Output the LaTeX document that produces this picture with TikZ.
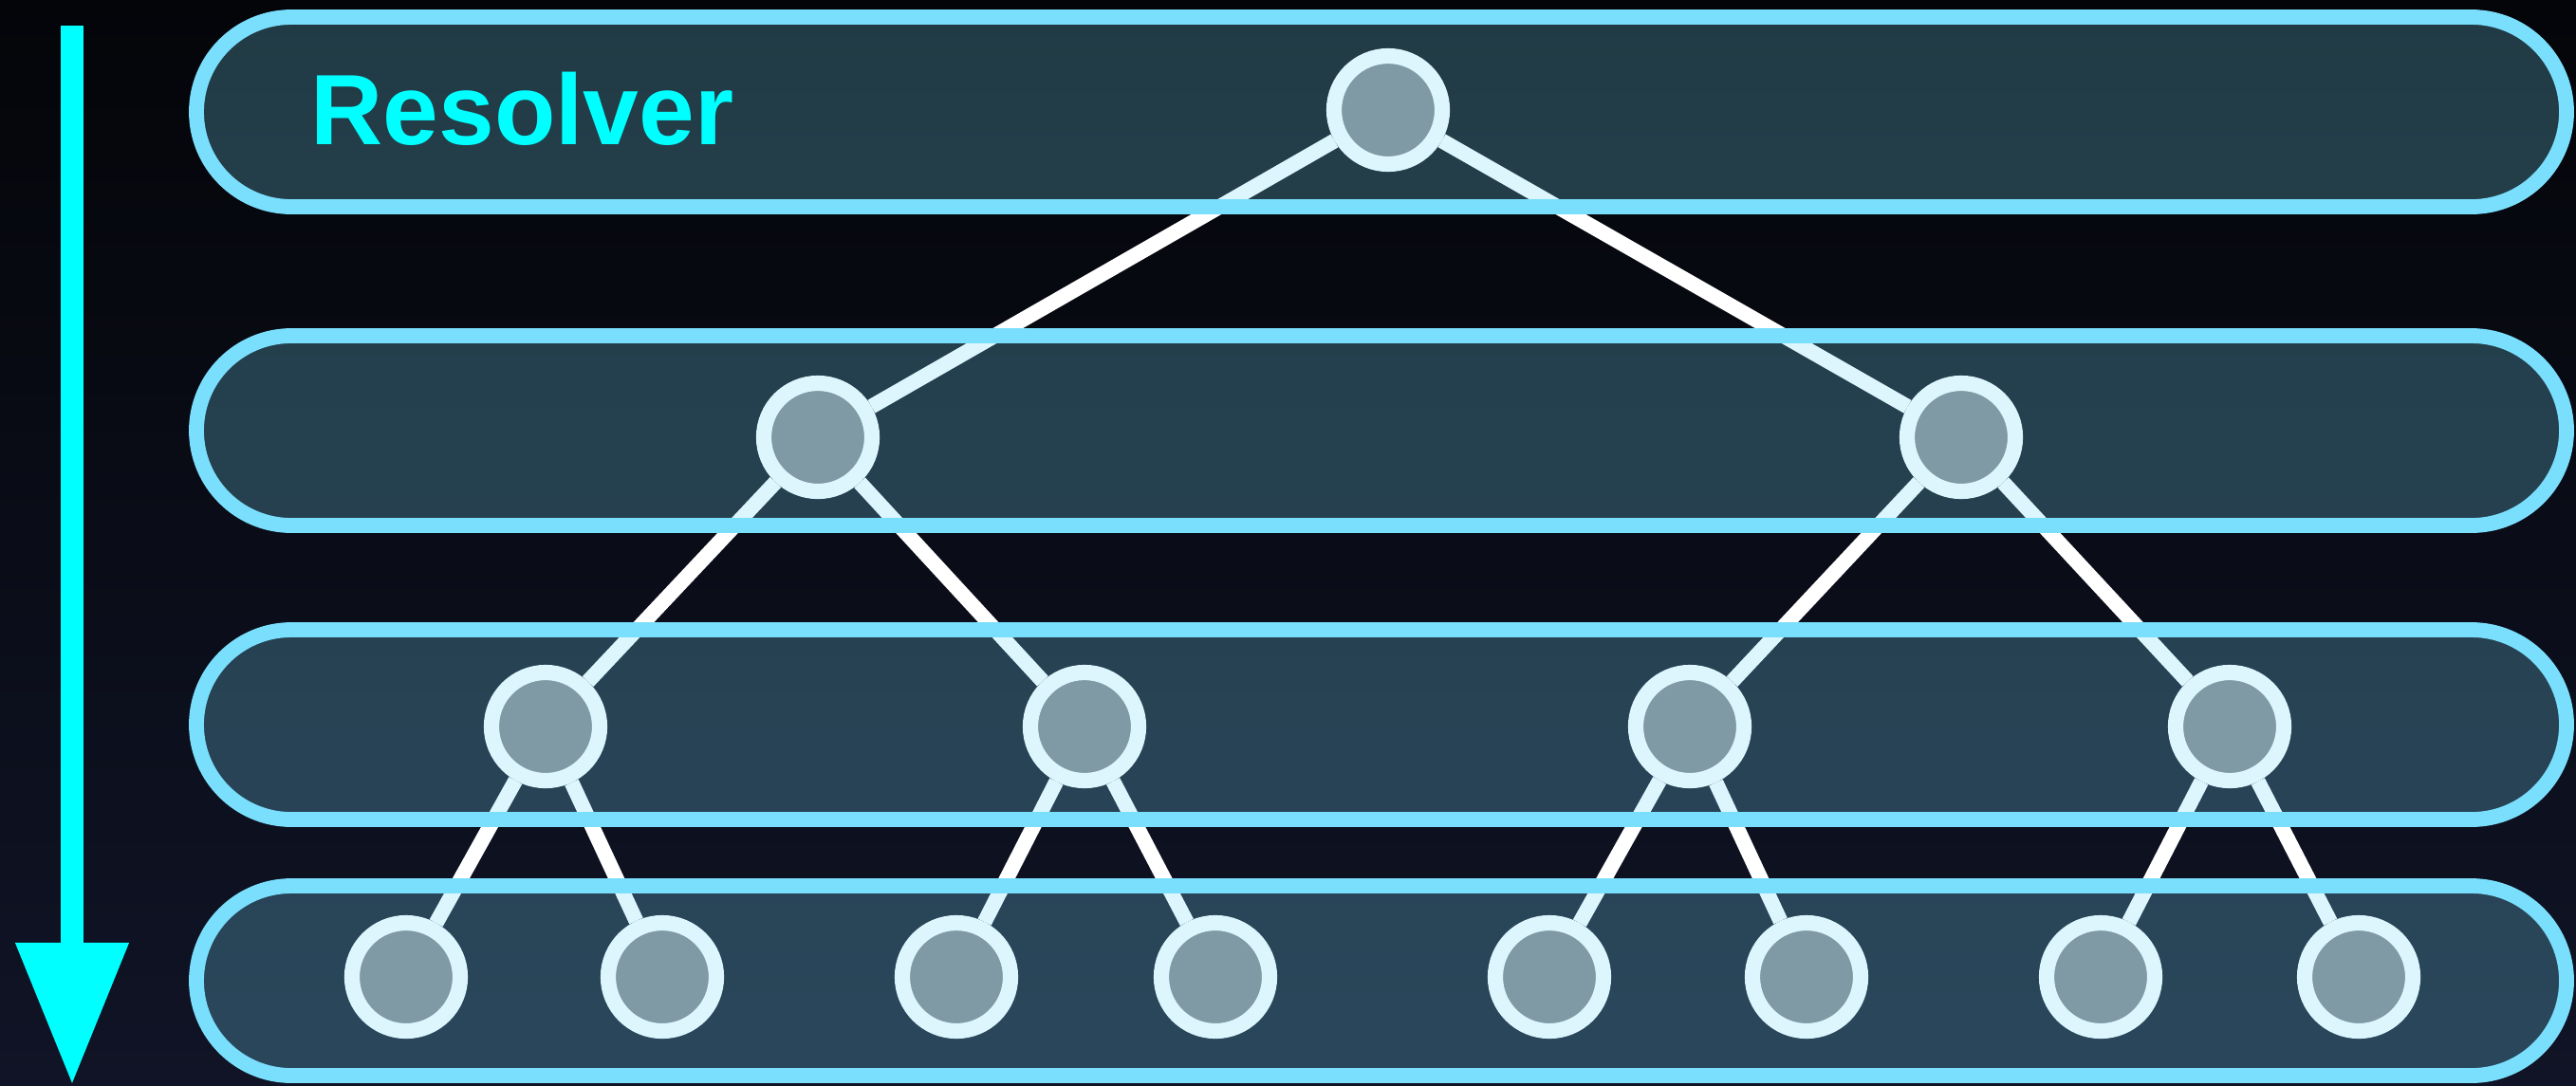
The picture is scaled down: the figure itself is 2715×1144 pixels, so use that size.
\documentclass[tikz,border=0pt]{standalone}
\usepackage{fontspec}
\setmainfont{Liberation Sans}
\usetikzlibrary{arrows.meta}

\definecolor{bandc}{RGB}{122,223,253}
\definecolor{nodegray}{RGB}{130,131,136}
\definecolor{titlecyan}{RGB}{0,255,255}
\definecolor{bgtop}{RGB}{4,5,9}
\definecolor{bgbot}{RGB}{16,20,38}

\tikzset{
  treenode/.style={circle, draw=white, fill=nodegray, line width=4.6pt, minimum size=1.14cm, inner sep=0pt},
  treeedge/.style={white, line width=4.5pt},
  band/.style={draw=bandc, fill=bandc, fill opacity=0.25, line width=4.5pt, rounded corners=1cm},
}

\begin{document}
\begin{tikzpicture}[x=0.01cm, y=-0.01cm]
    \useasboundingbox (0,0) rectangle (2715,1144);

    % 1. 背景
    \shade[top color=bgtop, bottom color=bgbot] (0,0) rectangle (2715,1144);

    % 2. 树的节点
    \node[treenode] (root) at (1463,116) {};
    \node[treenode] (a) at (862,461) {};
    \node[treenode] (b) at (2067,461) {};
    \foreach \name/\x in {a1/575, a2/1143, b1/1781, b2/2350}
        \node[treenode] (\name) at (\x,766) {};
    \foreach \name/\x in {a11/428, a12/698, a21/1008, a22/1281, b11/1633, b12/1904, b21/2214, b22/2486}
        \node[treenode] (\name) at (\x,1030) {};

    % 3. 树的连线
    \foreach \p/\c in {root/a, root/b, a/a1, a/a2, b/b1, b/b2, a1/a11, a1/a12, a2/a21, a2/a22, b1/b11, b1/b12, b2/b21, b2/b22}
        \draw[treeedge] (\p) -- (\c);

    % 4. 每一层的圆角框
    \foreach \y in {118, 454, 764, 1034}
        \draw[band] (207,\y-100) rectangle (2705,\y+100);

    % 5. 标题和左侧箭头
    \node[anchor=base west, inner sep=0pt, text=titlecyan, font=\bfseries\fontsize{30}{36}\selectfont] (title) at (327,152) {Resolver};
    \coordinate (start) at (76,27);
    \coordinate (end) at (76,1144);
    \draw[-{Triangle[width=1.13cm, length=1.5cm]}, titlecyan, line width=6.8pt] (start) -- (end);

\end{tikzpicture}
\end{document}
